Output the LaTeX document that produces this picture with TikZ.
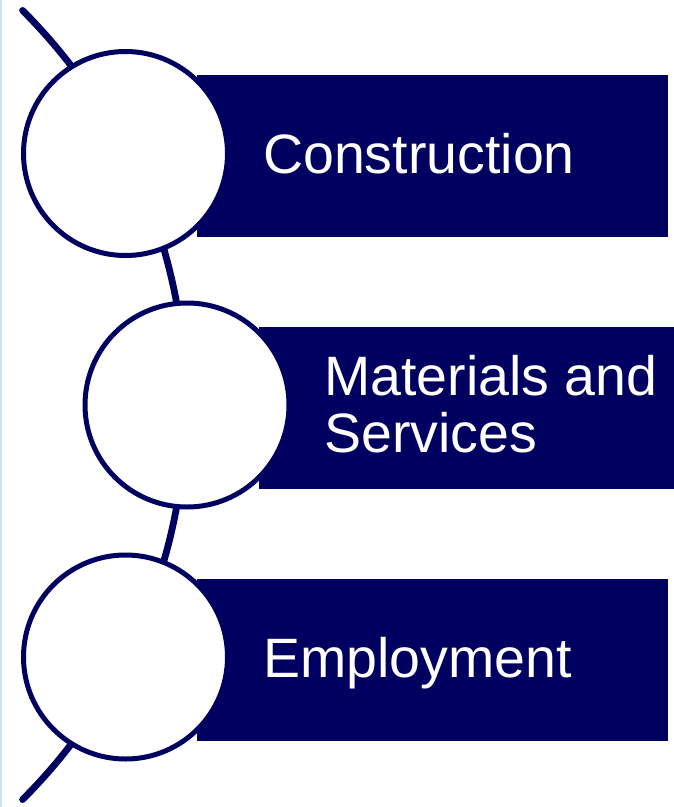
\documentclass[tikz,border=0pt]{standalone}
\usepackage{fontspec}
\setmainfont{Liberation Sans}
\definecolor{navy}{RGB}{0,0,96}
\definecolor{edgeblue}{RGB}{200,226,242}
\tikzset{
  bar/.style={fill=navy, draw=none, rectangle, anchor=north west, minimum width=471pt, minimum height=162pt, inner sep=0pt},
  ring/.style={circle, draw=navy, line width=5pt, fill=white, minimum size=204pt, inner sep=0pt},
  label/.style={text=white, anchor=base west, inner sep=0pt, font=\fontsize{55.5pt}{57pt}\selectfont, align=left},
  spine/.style={draw=navy, line width=6.8pt, line cap=round}
}
\begin{document}
\begin{tikzpicture}[x=1pt,y=-1pt]
\useasboundingbox (0,0) rectangle (673,807);
\fill[edgeblue] (0,0) rectangle (2.2,807);
% bars
\node[bar] (b1) at (197,75) {};
\node[bar] (b2) at (259,327) {};
\node[bar] (b3) at (197,579) {};
% spine arc
\coordinate (ac) at (-372,405);
\coordinate (top) at ([shift={(-372,405)}]-45:558);
\draw[spine] (top) arc[start angle=-45, end angle=45, radius=558];
% circles
\node[ring] (c1) at (125.5,153.5) {};
\node[ring] (c2) at (187,405) {};
\node[ring] (c3) at (125.5,657) {};
% labels
\node[label] (t1) at (263,173) {Construction};
\node[label, anchor=north west] (t2) at (324,355) {Materials and\\Services};
\node[label] (t3) at (263,677) {Employment};
\end{tikzpicture}
\end{document}
